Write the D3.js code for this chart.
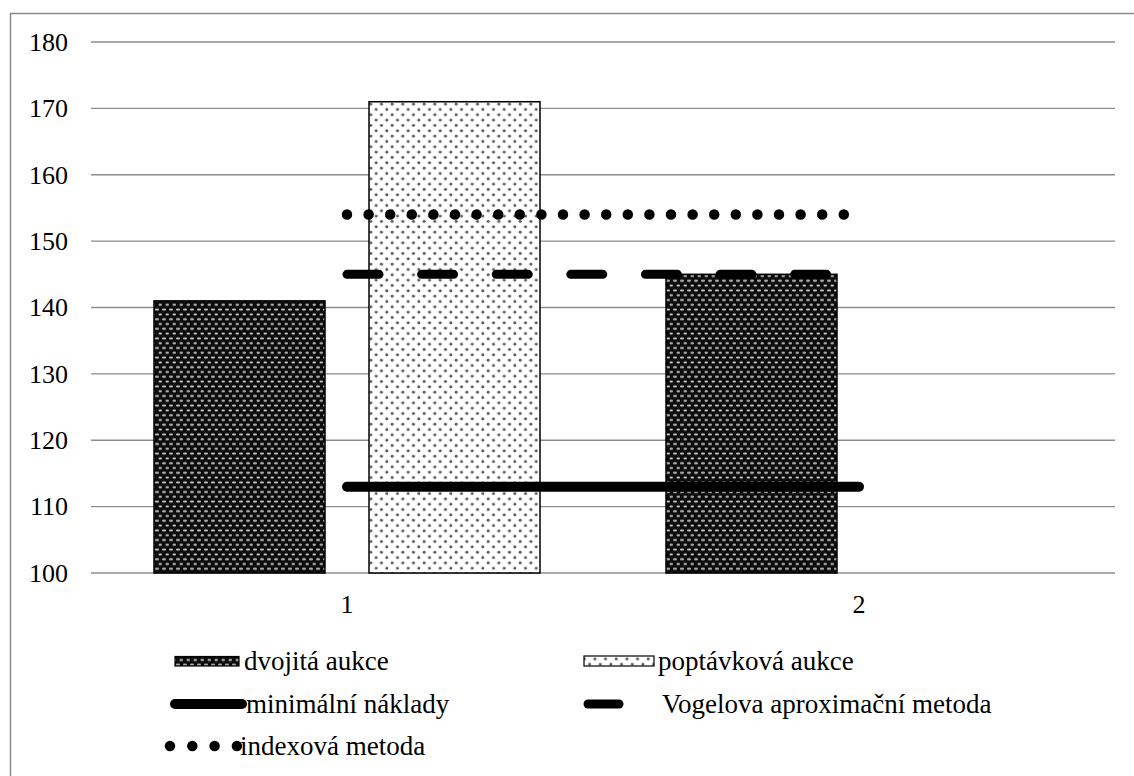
<!DOCTYPE html>
<html>
<head>
<meta charset="utf-8">
<script src="https://cdn.jsdelivr.net/npm/d3@7"></script>
<style>
  html, body { margin: 0; padding: 0; background: #fff; }
  svg { display: block; }
  text { font-family: "Liberation Serif", "Times New Roman", Times, "DejaVu Serif", serif; fill: #000; }
</style>
</head>
<body>
<svg id="chart" width="1134" height="776"></svg>
<script>
// Categories and series values
const categories = ["1", "2"];
const dvojitaAukce = [141, 145];
const poptavkovaAukce = [171, null];
const minimalniNaklady = [113, 113];
const vogelovaMetoda = [145, 145];
const indexovaMetoda = [154, 154];
const yTicks = [100, 110, 120, 130, 140, 150, 160, 170, 180];

const FONT = "'Liberation Serif', 'Times New Roman', Times, 'DejaVu Serif', serif";

const barSeries = [
  { key: "dvojita", name: "dvojitá aukce", values: dvojitaAukce, fill: "url(#patDark)" },
  { key: "poptavkova", name: "poptávková aukce", values: poptavkovaAukce, fill: "url(#patLight)" }
];
const lineSeries = [
  { key: "min", name: "minimální náklady", values: minimalniNaklady, width: 10, dash: null },
  { key: "vogel", name: "Vogelova aproximační metoda", values: vogelovaMetoda, width: 9, dash: "32,42.6" },
  { key: "index", name: "indexová metoda", values: indexovaMetoda, width: 10.5, dash: "0,21.6" }
];

const svg = d3.select("#chart");
const defs = svg.append("defs");

// Dark fill: black ground with light dashes in staggered rows
const pd = defs.append("pattern").attr("id", "patDark")
  .attr("patternUnits", "userSpaceOnUse").attr("width", 7).attr("height", 9.6);
pd.append("rect").attr("width", 7).attr("height", 9.6).attr("fill", "#0c0c0c");
pd.append("rect").attr("x", 1).attr("y", 1.4).attr("width", 4).attr("height", 2).attr("rx", 1).attr("fill", "#c8c8c8");
pd.append("rect").attr("x", 4.5).attr("y", 6.2).attr("width", 4).attr("height", 2).attr("rx", 1).attr("fill", "#c8c8c8");
pd.append("rect").attr("x", -3).attr("y", 6.2).attr("width", 4).attr("height", 2).attr("rx", 1).attr("fill", "#c8c8c8");

// Light fill: white ground with a staggered grid of grey dots
const pl = defs.append("pattern").attr("id", "patLight")
  .attr("patternUnits", "userSpaceOnUse").attr("width", 10.67).attr("height", 10.67);
pl.append("rect").attr("width", 10.67).attr("height", 10.67).attr("fill", "#fff");
pl.append("circle").attr("cx", 2.7).attr("cy", 2.7).attr("r", 1.5).attr("fill", "#555");
pl.append("circle").attr("cx", 8.03).attr("cy", 8.03).attr("r", 1.5).attr("fill", "#555");

// Outer frame
svg.append("rect").attr("x", 10.5).attr("y", 13.5).attr("width", 1130).attr("height", 770)
  .attr("fill", "none").attr("stroke", "#8a8a8a").attr("stroke-width", 1.5);

const plotLeft = 91, plotRight = 1115, plotTop = 42, plotBottom = 573;

const x0 = d3.scaleBand().domain(categories).range([plotLeft, plotRight]).padding(0);
const x1 = d3.scaleBand().domain(barSeries.map(s => s.key))
  .range([63, x0.bandwidth() - 63]).paddingInner(0.2047).paddingOuter(0);
const y = d3.scaleLinear().domain([100, 180]).range([plotBottom, plotTop]);

// Horizontal gridlines
svg.append("g").selectAll("line").data(yTicks).join("line")
  .attr("x1", plotLeft).attr("x2", plotRight)
  .attr("y1", d => y(d)).attr("y2", d => y(d))
  .attr("stroke", "#8c8c8c").attr("stroke-width", 1.4);

// Y axis labels
const yAxis = d3.axisLeft(y).tickValues(yTicks).tickSize(0).tickPadding(0).tickFormat(d3.format("d"));
const gy = svg.append("g").attr("transform", "translate(68,0)").call(yAxis)
  .attr("font-family", FONT).attr("font-size", 26);
gy.select(".domain").remove();
gy.selectAll("text").style("font-family", FONT).style("font-size", "26px").attr("fill", "#000");

// X axis labels
const xAxis = d3.axisBottom(x0).tickSize(0).tickPadding(0);
const gx = svg.append("g").attr("transform", "translate(0,595)").call(xAxis)
  .attr("font-family", FONT).attr("font-size", 26);
gx.select(".domain").remove();
gx.selectAll("text").style("font-family", FONT).style("font-size", "26px").attr("fill", "#000");

// Bars
const barData = [];
categories.forEach((c, i) => barSeries.forEach(s => {
  if (s.values[i] != null) barData.push({ cat: c, key: s.key, value: s.values[i], fill: s.fill });
}));
svg.append("g").selectAll("rect").data(barData).join("rect")
  .attr("x", d => x0(d.cat) + x1(d.key))
  .attr("width", x1.bandwidth())
  .attr("y", d => y(d.value))
  .attr("height", d => y(100) - y(d.value))
  .attr("fill", d => d.fill)
  .attr("stroke", "#000").attr("stroke-width", 1.5);

// Lines through category centres
const line = d3.line().x((d, i) => x0(categories[i]) + x0.bandwidth() / 2).y(d => y(d));
lineSeries.forEach(s => {
  svg.append("path").datum(s.values)
    .attr("d", line)
    .attr("fill", "none").attr("stroke", "#000")
    .attr("stroke-width", s.width)
    .attr("stroke-linecap", "round")
    .attr("stroke-dasharray", s.dash);
});

// Legend
const legend = svg.append("g").style("font-size", "27px").style("font-family", FONT);
const rowY = [661, 704, 746];
// bar swatches
legend.append("rect").attr("x", 175).attr("y", rowY[0] - 4.5).attr("width", 64).attr("height", 9.5)
  .attr("fill", "url(#patDark)").attr("stroke", "#000").attr("stroke-width", 1.2);
legend.append("text").attr("x", 244).attr("y", rowY[0]).attr("dy", "0.35em").text(barSeries[0].name);
legend.append("rect").attr("x", 584).attr("y", rowY[0] - 5).attr("width", 70).attr("height", 10)
  .attr("fill", "url(#patLight)").attr("stroke", "#000").attr("stroke-width", 1.2);
legend.append("text").attr("x", 658).attr("y", rowY[0]).attr("dy", "0.35em").text(barSeries[1].name);
// line samples
legend.append("line").attr("x1", 175).attr("x2", 242).attr("y1", rowY[1]).attr("y2", rowY[1])
  .attr("stroke", "#000").attr("stroke-width", 10).attr("stroke-linecap", "round");
legend.append("text").attr("x", 246).attr("y", rowY[1]).attr("dy", "0.35em").text(lineSeries[0].name);
legend.append("line").attr("x1", 588).attr("x2", 619).attr("y1", rowY[1]).attr("y2", rowY[1])
  .attr("stroke", "#000").attr("stroke-width", 9).attr("stroke-linecap", "round");
legend.append("text").attr("x", 662).attr("y", rowY[1]).attr("dy", "0.35em").text(lineSeries[1].name);
legend.append("line").attr("x1", 170).attr("x2", 238).attr("y1", rowY[2]).attr("y2", rowY[2])
  .attr("stroke", "#000").attr("stroke-width", 10.5).attr("stroke-linecap", "round")
  .attr("stroke-dasharray", "0,22.3");
legend.append("text").attr("x", 240).attr("y", rowY[2]).attr("dy", "0.35em").text(lineSeries[2].name);
</script>
</body>
</html>
